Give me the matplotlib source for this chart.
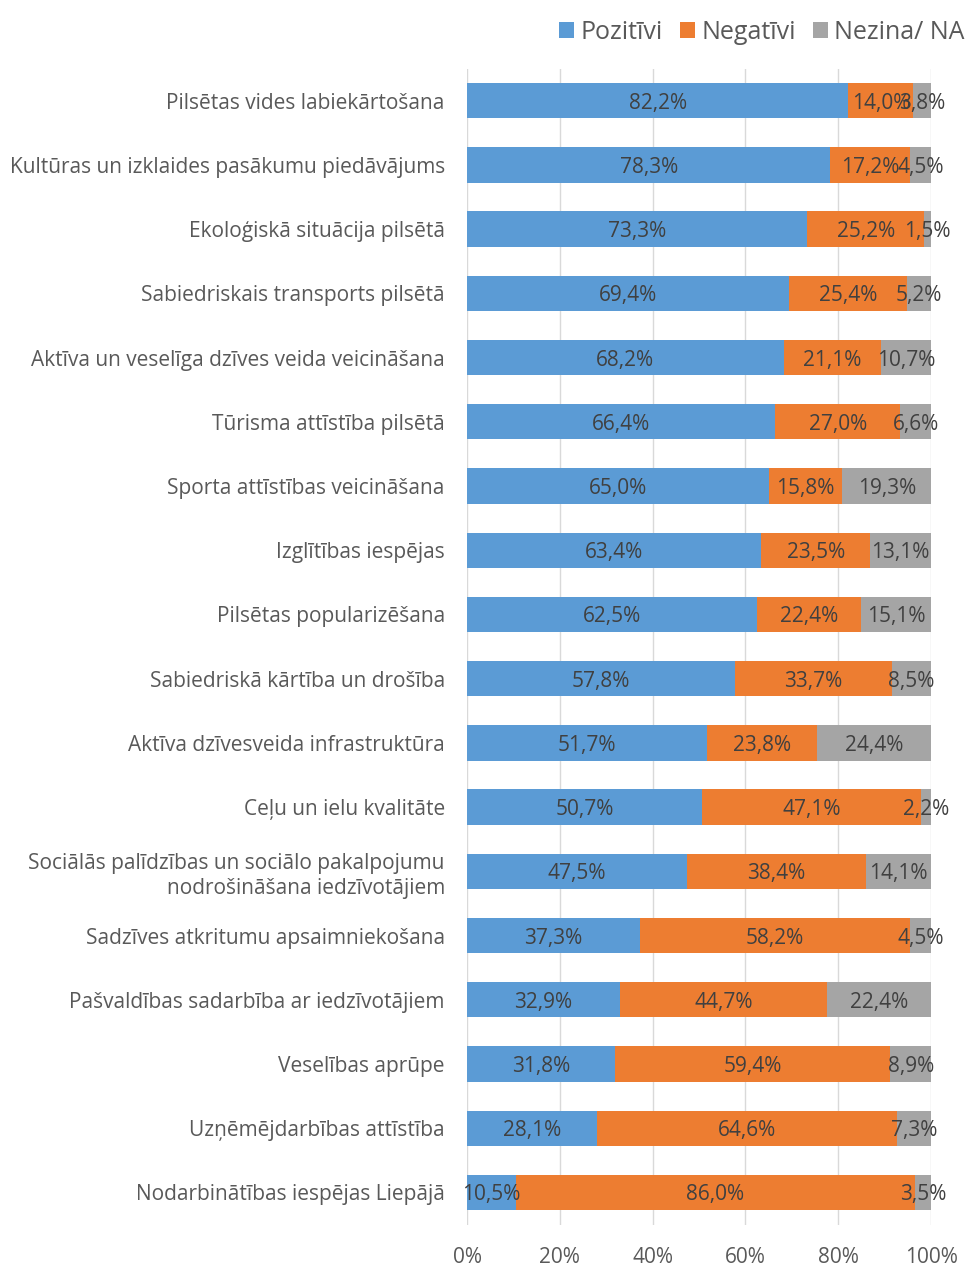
import matplotlib.pyplot as plt
import numpy as np

plt.rcParams['font.family'] = ['Open Sans', 'DejaVu Sans']

categories = [
    "Pilsētas vides labiekārtošana",
    "Kultūras un izklaides pasākumu piedāvājums",
    "Ekoloģiskā situācija pilsētā",
    "Sabiedriskais transports pilsētā",
    "Aktīva un veselīga dzīves veida veicināšana",
    "Tūrisma attīstība pilsētā",
    "Sporta attīstības veicināšana",
    "Izglītības iespējas",
    "Pilsētas popularizēšana",
    "Sabiedriskā kārtība un drošība",
    "Aktīva dzīvesveida infrastruktūra",
    "Ceļu un ielu kvalitāte",
    "Sociālās palīdzības un sociālo pakalpojumu\nnodrošināšana iedzīvotājiem",
    "Sadzīves atkritumu apsaimniekošana",
    "Pašvaldības sadarbība ar iedzīvotājiem",
    "Veselības aprūpe",
    "Uzņēmējdarbības attīstība",
    "Nodarbinātības iespējas Liepājā",
]
pozitivi = [82.2, 78.3, 73.3, 69.4, 68.2, 66.4, 65.0, 63.4, 62.5, 57.8, 51.7, 50.7, 47.5, 37.3, 32.9, 31.8, 28.1, 10.5]
negativi = [14.0, 17.2, 25.2, 25.4, 21.1, 27.0, 15.8, 23.5, 22.4, 33.7, 23.8, 47.1, 38.4, 58.2, 44.7, 59.4, 64.6, 86.0]
nezina = [3.8, 4.5, 1.5, 5.2, 10.7, 6.6, 19.3, 13.1, 15.1, 8.5, 24.4, 2.2, 14.1, 4.5, 22.4, 8.9, 7.3, 3.5]

series = [("Pozitīvi", pozitivi, "#5B9BD5"),
          ("Negatīvi", negativi, "#ED7D31"),
          ("Nezina/ NA", nezina, "#A5A5A5")]

fig = plt.figure(figsize=(9.77, 12.69), dpi=100)
ax = fig.add_axes([0.478, 0.035, 0.475, 0.911])

y = np.arange(len(categories))
left = np.zeros(len(categories))
for name, vals, color in series:
    vals = np.array(vals)
    ax.barh(y, vals, left=left, height=0.55, color=color, label=name, zorder=2)
    for yi, l, v in zip(y, left, vals):
        ax.text(l + v / 2, yi, f"{v:.1f}%".replace(".", ","), ha="center",
                va="center_baseline", fontsize=15, color="#404040", zorder=3)
    left = left + vals

ax.set_ylim(len(categories) - 0.5, -0.5)
ax.set_xlim(0, 100)
ax.set_yticks(y)
ax.set_yticklabels(categories, fontsize=15, color="#595959", linespacing=1.25)
ax.set_xticks(np.arange(0, 101, 20))
ax.set_xticklabels([f"{t}%" for t in range(0, 101, 20)], fontsize=15, color="#595959")
ax.tick_params(axis="x", length=0, pad=16)
ax.tick_params(axis="y", length=0, pad=16)
ax.grid(axis="x", color="#D9D9D9", linewidth=1, zorder=0)
for s in ax.spines.values():
    s.set_visible(False)

ax.legend(loc="lower right", bbox_to_anchor=(1.11, 1.005), ncol=3, frameon=False,
          fontsize=18, handlelength=0.6, handleheight=0.6, handletextpad=0.25,
          columnspacing=0.7, labelcolor="#595959", borderaxespad=0.3)

fig.savefig("out.png", dpi=100)
